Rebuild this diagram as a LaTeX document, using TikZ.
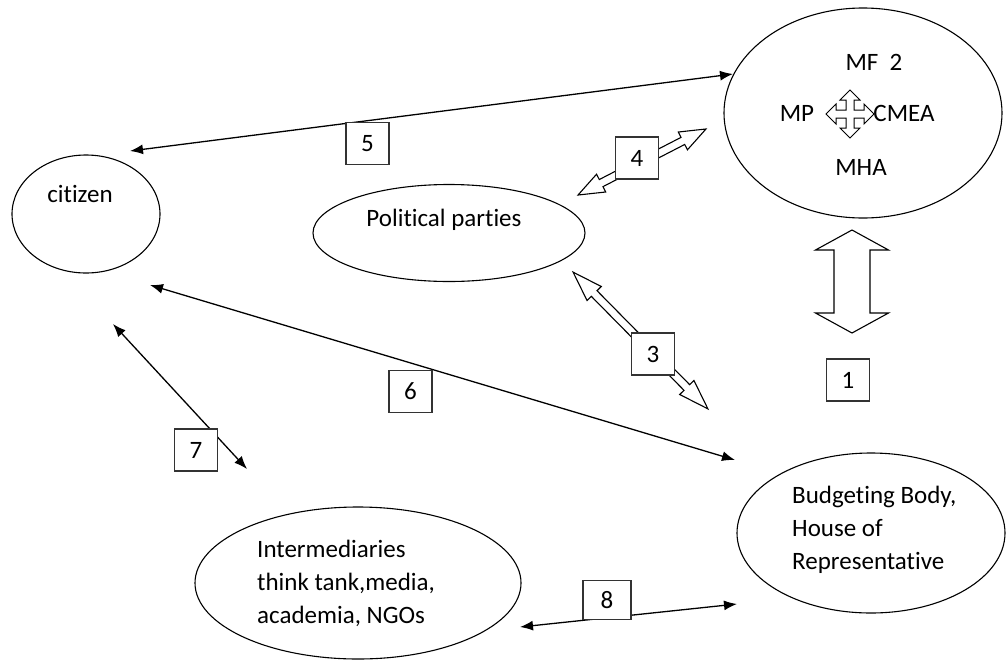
\documentclass[tikz,border=0pt]{standalone}
\usepackage{fontspec}
\setmainfont{Carlito}[Ligatures=NoCommon]
\usetikzlibrary{shapes.geometric,arrows.meta}
\newcommand{\hollowarr}[7]{%
\begin{scope}[shift={(#1,#2)},rotate=#3]
\draw[hollow] ({-#4},0) -- ({-#4+#7},{#6}) -- ({-#4+#7},{#5}) -- ({#4-#7},{#5}) -- ({#4-#7},{#6}) -- ({#4},0)
 -- ({#4-#7},{-#6}) -- ({#4-#7},{-#5}) -- ({-#4+#7},{-#5}) -- ({-#4+#7},{-#6}) -- cycle;
\end{scope}}
\begin{document}
\begin{tikzpicture}[x=1pt,y=-1pt,
  every node/.style={font=\fontsize{25}{33}\selectfont},
  oval/.style={draw, ellipse, line width=1.1pt, inner sep=0pt},
  numbox/.style={draw=black!80, fill=white, line width=1.3pt, minimum width=43pt, minimum height=42pt, inner sep=0pt},
  dbl/.style={line width=1.3pt, {Latex[length=13pt,width=10pt]}-{Latex[length=13pt,width=10pt]}},
  hollow/.style={line width=1.1pt, fill=white, line join=miter},
  lbl/.style={inner sep=0pt}]
\useasboundingbox (0,0) rectangle (1007,662);
% ellipses
\node[oval, minimum width=278pt, minimum height=210pt] (mf) at (863,113) {};
\node[oval, minimum width=148pt, minimum height=118pt] (cit) at (86,214) {};
\node[oval, minimum width=272pt, minimum height=97pt] (pp) at (449,233) {};
\node[oval, minimum width=326pt, minimum height=152pt] (inter) at (358,583) {};
\node[oval, minimum width=268pt, minimum height=160pt] (bud) at (871,533) {};
% texts
\node[lbl] (tmf) at (874,62) {MF\ \ 2};
\node[lbl] (tmp) at (797,113) {MP};
\node[lbl] (tcmea) at (904,113) {CMEA};
\node[lbl] (tmha) at (861,167) {MHA};
\node[lbl] (tcit) at (80,194) {citizen};
\node[lbl] (tpp) at (444,220) {Political parties};
\node[lbl, anchor=west, align=left] (tinter) at (257,583) {Intermediaries\\think tank,media,\\academia, NGOs};
\node[lbl, anchor=west, align=left] (tbud) at (792,530) {Budgeting Body,\\House of\\Representative};
% four-way arrow
\begin{scope}[shift={(850,114)}]
\draw[hollow, line width=1pt] (24,0) -- (14,10) -- (14,4) -- (4,4) -- (4,14) -- (10,14) -- (0,24) -- (-10,14) -- (-4,14) -- (-4,4)
 -- (-14,4) -- (-14,10) -- (-24,0) -- (-14,-10) -- (-14,-4) -- (-4,-4) -- (-4,-14) -- (-10,-14) -- (0,-24) -- (10,-14) -- (4,-14)
 -- (4,-4) -- (14,-4) -- (14,-10) -- cycle;
\end{scope}
% connector end points
\coordinate (e5a) at (130,151);
\coordinate (e5b) at (733,74);
\coordinate (e6a) at (150,285);
\coordinate (e6b) at (735,460);
\coordinate (e7a) at (113,324);
\coordinate (e7b) at (247,469);
\coordinate (e8a) at (520,627);
\coordinate (e8b) at (737,604);
% connectors
\draw[dbl] (e5a) -- (e5b);
\draw[dbl] (e6a) -- (e6b);
\draw[dbl] (e7a) -- (e7b);
\draw[dbl] (e8a) -- (e8b);
% hollow double arrows
\hollowarr{642}{162}{27.3}{72}{4}{10}{26}
\hollowarr{640.5}{340.5}{-45.4}{96}{4}{10}{30}
\hollowarr{852}{281.5}{90}{51.5}{18}{36.5}{20}
% number boxes
\node[numbox] (b1) at (848,380) {1};
\node[numbox] (b3) at (653,354) {3};
\node[numbox] (b4) at (637,158) {4};
\node[numbox] (b5) at (367.5,143.5) {5};
\node[numbox] (b6) at (410.5,391.5) {6};
\node[numbox] (b7) at (196,450) {7};
\node[numbox, minimum width=48pt, minimum height=39pt] (b8) at (607,600) {8};
\end{tikzpicture}
\end{document}
